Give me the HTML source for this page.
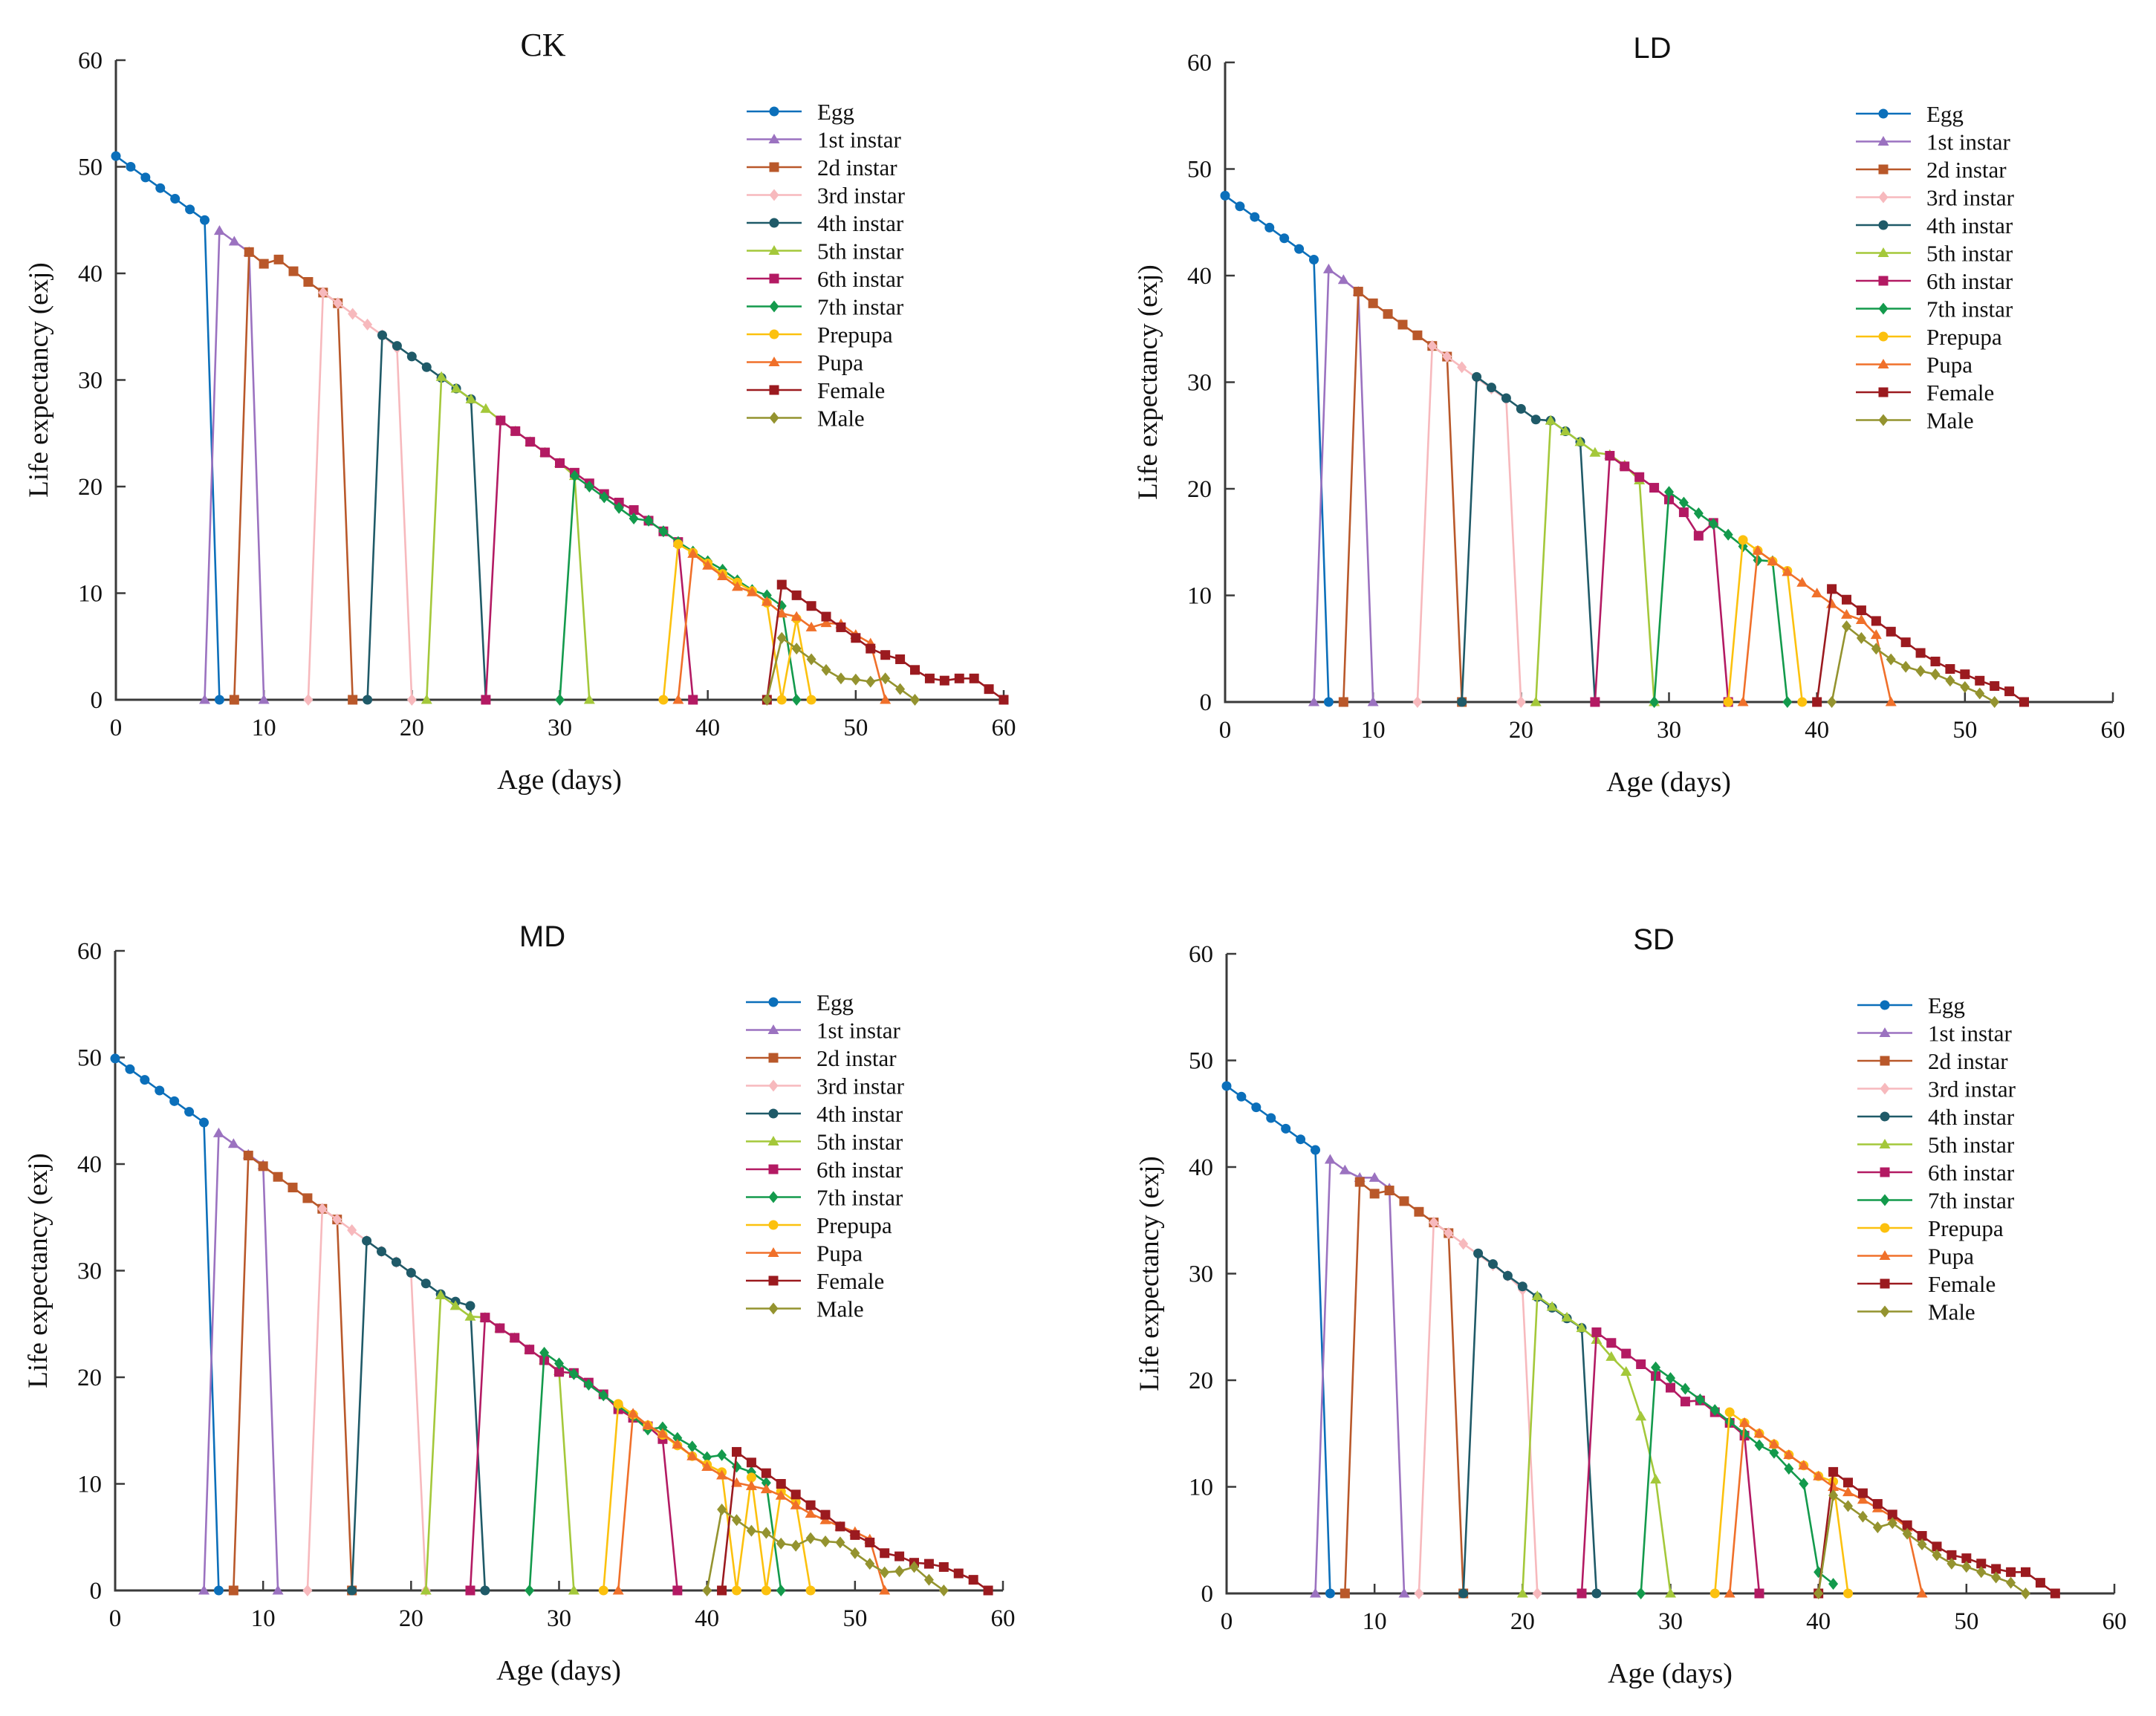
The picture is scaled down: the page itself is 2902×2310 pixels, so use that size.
<!DOCTYPE html>
<html><head><meta charset="utf-8"><style>
html,body{margin:0;padding:0;background:#fff;}
svg{display:block;}
</style></head><body>
<svg id="chart" width="2902" height="2310" viewBox="0 0 2902 2310" xmlns="http://www.w3.org/2000/svg"></svg>
<script>
const stageNames = ["Egg","1st instar","2d instar","3rd instar","4th instar","5th instar","6th instar","7th instar","Prepupa","Pupa","Female","Male"];
const stageColors = ["#0b6fba","#9b72c0","#b9582a","#f7b9bd","#1f5a68","#a4c83a","#b31a63","#139a4c","#fcc10e","#f0702a","#9b1a1f","#94932f"];
const stageMarkers = ["circle","triangle","square","diamond","circle","triangle","square","diamond","circle","triangle","square","diamond"];
const xTicks = [0,10,20,30,40,50,60];
const yTicks = [0,10,20,30,40,50,60];
const panelTitles = ["CK","LD","MD","SD"];

const ckSeries = [
 [[0,51],[1,50],[2,49],[3,48],[4,47],[5,46],[6,45],[7,0]],
 [[6,0],[7,44],[8,43],[9,42],[10,0]],
 [[8,0],[9,42],[10,40.9],[11,41.3],[12,40.2],[13,39.2],[14,38.2],[15,37.2],[16,0]],
 [[13,0],[14,38.2],[15,37.2],[16,36.2],[17,35.2],[18,34.2],[19,33],[20,0]],
 [[17,0],[18,34.2],[19,33.2],[20,32.2],[21,31.2],[22,30.2],[23,29.2],[24,28.2],[25,0]],
 [[21,0],[22,30.3],[23,29.2],[24,28.2],[25,27.3],[26,26.2],[27,25.2],[28,24.2],[29,23.2],[30,22.2],[31,21],[32,0]],
 [[25,0],[26,26.2],[27,25.2],[28,24.2],[29,23.2],[30,22.2],[31,21.3],[32,20.3],[33,19.3],[34,18.5],[35,17.8],[36,16.8],[37,15.8],[38,14.8],[39,0]],
 [[30,0],[31,21],[32,20],[33,19],[34,18],[35,17],[36,16.8],[37,15.8],[38,14.8],[39,13.9],[40,13],[41,12.2],[42,11.2],[43,10.3],[44,9.8],[45,8.8],[46,0]],
 [[37,0],[38,14.6],[39,13.8],[40,12.8],[41,11.8],[42,11],[43,10.2],[44,9.1],[45,0],[46,7.6],[47,0]],
 [[38,0],[39,13.7],[40,12.6],[41,11.6],[42,10.6],[43,10.1],[44,9.2],[45,8.1],[46,7.8],[47,6.8],[48,7.2],[49,7.1],[50,6.1],[51,5.3],[52,0]],
 [[44,0],[45,10.8],[46,9.8],[47,8.8],[48,7.8],[49,6.8],[50,5.8],[51,4.8],[52,4.2],[53,3.8],[54,2.8],[55,2],[56,1.8],[57,2],[58,2],[59,1],[60,0]],
 [[44,0],[45,5.8],[46,4.8],[47,3.8],[48,2.8],[49,2],[50,1.9],[51,1.7],[52,2],[53,1],[54,0]]
];
const ldSeries = [
 [[0,47.5],[1,46.5],[2,45.5],[3,44.5],[4,43.5],[5,42.5],[6,41.5],[7,0]],
 [[6,0],[7,40.6],[8,39.6],[9,38.5],[10,0]],
 [[8,0],[9,38.5],[10,37.4],[11,36.4],[12,35.4],[13,34.4],[14,33.4],[15,32.4],[16,0]],
 [[13,0],[14,33.4],[15,32.4],[16,31.4],[17,30.4],[18,29.4],[19,28.4],[20,0]],
 [[16,0],[17,30.5],[18,29.5],[19,28.5],[20,27.5],[21,26.5],[22,26.4],[23,25.4],[24,24.4],[25,0]],
 [[21,0],[22,26.4],[23,25.4],[24,24.4],[25,23.4],[26,23.2],[27,22.2],[28,20.8],[29,0]],
 [[25,0],[26,23.1],[27,22.1],[28,21.1],[29,20.1],[30,19],[31,17.8],[32,15.6],[33,16.8],[34,0]],
 [[29,0],[30,19.7],[31,18.7],[32,17.7],[33,16.7],[34,15.7],[35,14.6],[36,13.3],[37,13.2],[38,0]],
 [[34,0],[35,15.2],[36,14.2],[37,13.2],[38,12.3],[39,0]],
 [[35,0],[36,14.2],[37,13.2],[38,12.2],[39,11.2],[40,10.2],[41,9.2],[42,8.2],[43,7.7],[44,6.3],[45,0]],
 [[40,0],[41,10.6],[42,9.6],[43,8.6],[44,7.6],[45,6.6],[46,5.6],[47,4.6],[48,3.8],[49,3.1],[50,2.6],[51,2],[52,1.5],[53,1],[54,0]],
 [[41,0],[42,7.1],[43,6],[44,5],[45,4],[46,3.3],[47,2.9],[48,2.6],[49,2],[50,1.4],[51,0.8],[52,0]]
];
const mdSeries = [
 [[0,49.9],[1,48.9],[2,47.9],[3,46.9],[4,45.9],[5,44.9],[6,43.9],[7,0]],
 [[6,0],[7,42.9],[8,41.9],[9,40.9],[10,39.9],[11,0]],
 [[8,0],[9,40.8],[10,39.8],[11,38.8],[12,37.8],[13,36.8],[14,35.8],[15,34.8],[16,0]],
 [[13,0],[14,35.8],[15,34.8],[16,33.8],[17,32.8],[18,31.8],[19,30.8],[20,29.8],[21,0]],
 [[16,0],[17,32.8],[18,31.8],[19,30.8],[20,29.8],[21,28.8],[22,27.8],[23,27.1],[24,26.7],[25,0]],
 [[21,0],[22,27.7],[23,26.7],[24,25.7],[25,25.6],[26,24.6],[27,23.7],[28,22.6],[29,21.6],[30,20.6],[31,0]],
 [[24,0],[25,25.6],[26,24.6],[27,23.7],[28,22.6],[29,21.6],[30,20.5],[31,20.4],[32,19.5],[33,18.4],[34,17],[35,16.2],[36,15.4],[37,14.2],[38,0]],
 [[28,0],[29,22.3],[30,21.3],[31,20.3],[32,19.3],[33,18.3],[34,17.3],[35,16.3],[36,15.1],[37,15.3],[38,14.3],[39,13.5],[40,12.5],[41,12.7],[42,11.6],[43,11.1],[44,10.1],[45,0]],
 [[33,0],[34,17.5],[35,16.5],[36,15.5],[37,14.6],[38,13.6],[39,12.6],[40,11.8],[41,11.1],[42,0],[43,10.6],[44,0],[45,9.3],[46,8.3],[47,0]],
 [[34,0],[35,16.6],[36,15.5],[37,14.7],[38,13.7],[39,12.6],[40,11.6],[41,10.8],[42,10.1],[43,9.8],[44,9.5],[45,8.9],[46,8],[47,7.2],[48,6.6],[49,6],[50,5.5],[51,4.8],[52,0]],
 [[41,0],[42,13],[43,12],[44,11],[45,10],[46,9],[47,8],[48,7.1],[49,6],[50,5.2],[51,4.5],[52,3.5],[53,3.2],[54,2.6],[55,2.5],[56,2.2],[57,1.6],[58,1],[59,0]],
 [[40,0],[41,7.6],[42,6.6],[43,5.6],[44,5.4],[45,4.4],[46,4.2],[47,4.9],[48,4.6],[49,4.5],[50,3.5],[51,2.5],[52,1.7],[53,1.8],[54,2.2],[55,1],[56,0]]
];
const sdSeries = [
 [[0,47.6],[1,46.6],[2,45.6],[3,44.6],[4,43.6],[5,42.6],[6,41.6],[7,0]],
 [[6,0],[7,40.7],[8,39.7],[9,39],[10,39],[11,38],[12,0]],
 [[8,0],[9,38.6],[10,37.5],[11,37.8],[12,36.8],[13,35.8],[14,34.8],[15,33.8],[16,0]],
 [[13,0],[14,34.8],[15,33.8],[16,32.8],[17,31.8],[18,30.8],[19,29.8],[20,28.5],[21,0]],
 [[16,0],[17,31.9],[18,30.9],[19,29.8],[20,28.8],[21,27.8],[22,26.8],[23,25.8],[24,24.9],[25,0]],
 [[20,0],[21,27.9],[22,26.9],[23,25.9],[24,24.9],[25,23.8],[26,22.2],[27,20.8],[28,16.6],[29,10.7],[30,0]],
 [[24,0],[25,24.5],[26,23.5],[27,22.5],[28,21.5],[29,20.4],[30,19.3],[31,18],[32,18.1],[33,17],[34,16],[35,14.8],[36,0]],
 [[28,0],[29,21.2],[30,20.2],[31,19.2],[32,18.2],[33,17.2],[34,16.1],[35,15],[36,13.9],[37,13.2],[38,11.7],[39,10.3],[40,2],[41,0.9]],
 [[33,0],[34,17],[35,16],[36,15],[37,14],[38,13],[39,12],[40,11],[41,10.5],[42,0]],
 [[34,0],[35,16],[36,15],[37,14],[38,13],[39,12],[40,11],[41,10],[42,9.5],[43,8.8],[44,8],[45,7.2],[46,6.2],[47,0]],
 [[40,0],[41,11.4],[42,10.4],[43,9.4],[44,8.4],[45,7.4],[46,6.4],[47,5.4],[48,4.4],[49,3.6],[50,3.3],[51,2.8],[52,2.3],[53,2],[54,2],[55,1],[56,0]],
 [[40,0],[41,9.2],[42,8.2],[43,7.2],[44,6.2],[45,6.6],[46,5.6],[47,4.6],[48,3.6],[49,2.8],[50,2.5],[51,2],[52,1.5],[53,1],[54,0]]
];

const panelSeries = [ckSeries, ldSeries, mdSeries, sdSeries];
const layouts = [
 {x0:156,x1:1351,y0:942,y1:81,serif:true},
 {x0:1649,x1:2844,y0:945,y1:84,serif:false},
 {x0:155,x1:1350,y0:2141,y1:1280,serif:false},
 {x0:1651,x1:2846,y0:2145,y1:1284,serif:false}
];
const NS = "http://www.w3.org/2000/svg";
const svg = document.getElementById('chart');
function mk(tag, attrs, parent){
  const e = document.createElementNS(NS, tag);
  for (const k in attrs) e.setAttribute(k, attrs[k]);
  parent.appendChild(e);
  return e;
}
const SERIF = '"Liberation Serif", "DejaVu Serif", serif';
const SANS = '"Liberation Sans", "DejaVu Sans", sans-serif';

function marker(g, type, cx, cy, color){
  let e;
  const r = 6.5;
  if (type === 'circle') e = mk('circle', {cx:cx, cy:cy, r:r, fill:color}, g);
  else if (type === 'square') e = mk('rect', {x:cx-r, y:cy-r, width:2*r, height:2*r, fill:color}, g);
  else if (type === 'triangle') e = mk('polygon', {points:`${cx},${cy-r-1} ${cx+r+1},${cy+r-1} ${cx-r-1},${cy+r-1}`, fill:color}, g);
  else e = mk('polygon', {points:`${cx},${cy-r-1.5} ${cx+r},${cy} ${cx},${cy+r+1.5} ${cx-r},${cy}`, fill:color}, g);
  return e;
}

panelSeries.forEach((series, p) => {
  const L = layouts[p];
  const xs = v => L.x0 + (v - 0) / 60 * (L.x1 - L.x0);
  const ys = v => L.y0 - (v - 0) / 60 * (L.y0 - L.y1);
  const g = mk('g', {}, svg);
  
  

  const t = mk('text', {x:L.x0 + 575, y:L.y1 - 6, 'text-anchor':'middle', 'font-size':L.serif?44:40, 'font-family':L.serif?SERIF:SANS, fill:'#111'}, g);
  t.textContent = panelTitles[p];
  
  

  const ax = mk('path', {d:`M${L.x0},${L.y1} L${L.x0},${L.y0} L${L.x1},${L.y0}`, fill:'none', stroke:'#3a3a3a', 'stroke-width':3}, g);
  
  
  yTicks.forEach(v => {
    const y = ys(v);
    if (v > 0) {
      const tk = mk('line', {x1:L.x0, x2:L.x0+13, y1:y, y2:y, stroke:'#3a3a3a', 'stroke-width':2.5}, g);
      
      
    }
    const lb = mk('text', {x:L.x0 - 18, y:y + 11, 'text-anchor':'end', 'font-size':33, 'font-family':SERIF, fill:'#111'}, g);
    lb.textContent = v;
    
    
  });
  xTicks.forEach(v => {
    const x = xs(v);
    if (v > 0) {
      const tk = mk('line', {x1:x, x2:x, y1:L.y0, y2:L.y0-13, stroke:'#3a3a3a', 'stroke-width':2.5}, g);
      
      
    }
    const lb = mk('text', {x:x, y:L.y0 + 48, 'text-anchor':'middle', 'font-size':33, 'font-family':SERIF, fill:'#111'}, g);
    lb.textContent = v;
    
    
  });
  const xt = mk('text', {x:L.x0 + 597, y:L.y0 + 120, 'text-anchor':'middle', 'font-size':38, 'font-family':SERIF, fill:'#111'}, g);
  xt.textContent = 'Age (days)';
  
  
  const cy = (L.y0 + L.y1) / 2;
  const yt = mk('text', {x:0, y:0, transform:`translate(${L.x0 - 92},${cy}) rotate(-90)`, 'text-anchor':'middle', 'font-size':37, 'font-family':SERIF, fill:'#111'}, g);
  yt.textContent = 'Life expectancy (exj)';
  
  

  series.forEach((pts, s) => {
    const sg = mk('g', {}, g);
    
    
    const d = pts.map((pt,i) => (i? 'L':'M') + xs(pt[0]).toFixed(1) + ',' + ys(pt[1]).toFixed(1)).join(' ');
    const ln = mk('path', {d:d, fill:'none', stroke:stageColors[s], 'stroke-width':2.6, 'stroke-linejoin':'round'}, sg);
    
    
    pts.forEach(pt => {
      const m = marker(sg, stageMarkers[s], xs(pt[0]), ys(pt[1]), stageColors[s]);
      
      
    });
  });

  const lg = mk('g', {}, g);
  
  
  stageNames.forEach((name, s) => {
    const y = L.y1 + 69 + s * 37.5;
    const lx = L.x0 + 849;
    const eg = mk('g', {}, lg);
    
    
    mk('line', {x1:lx, x2:lx+74, y1:y, y2:y, stroke:stageColors[s], 'stroke-width':2.6}, eg);
    marker(eg, stageMarkers[s], lx+37, y, stageColors[s]);
    const tx = mk('text', {x:lx + 95, y:y + 11, 'font-size':31, 'font-family':SERIF, fill:'#111'}, eg);
    tx.textContent = name;
  });
});
</script>
</body></html>
